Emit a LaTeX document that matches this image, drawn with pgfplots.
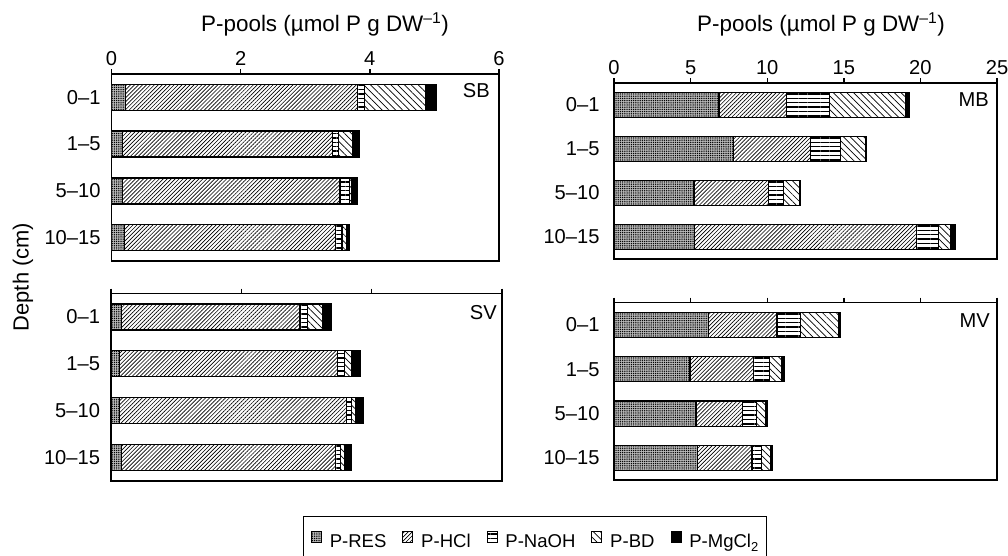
\documentclass[border=0pt]{standalone}
\usepackage{pgfplots}
\pgfplotsset{compat=1.18}
\usepackage{pgfplotstable}
\usepackage{fontspec}
\setmainfont{Liberation Sans}
\usetikzlibrary{patterns.meta}

% segment values (stacked): RES, HCl, NaOH, BD, MgCl2
\pgfplotstableread{
y res hcl naoh bd mg
0 0.22 3.59 0.11 0.95 0.16
1 0.17 3.25 0.10 0.22 0.09
2 0.17 3.37 0.14 0.04 0.09
3 0.20 3.27 0.10 0.07 0.05
}\SB
\pgfplotstableread{
y res hcl naoh bd mg
0 0.16 2.74 0.12 0.23 0.13
1 0.13 3.35 0.10 0.12 0.13
2 0.13 3.48 0.08 0.07 0.12
3 0.16 3.29 0.07 0.07 0.10
}\SV
\pgfplotstableread{
y res hcl naoh bd mg
0 6.86 4.38 2.83 4.95 0.28
1 7.80 5.01 1.96 1.68 0.03
2 5.23 4.86 0.98 1.02 0.07
3 5.25 14.49 1.46 0.80 0.29
}\MB
\pgfplotstableread{
y res hcl naoh bd mg
0 6.17 4.46 1.53 2.50 0.11
1 4.97 4.14 1.02 0.79 0.17
2 5.36 3.05 0.87 0.59 0.13
3 5.47 3.53 0.65 0.55 0.15
}\MV

\tikzset{
  pres/.style={draw=black, line width=1.3bp, preaction={fill=gray!55},
    pattern={Dots[distance=2.2bp, radius=0.75bp]}},
  phcl/.style={draw=black, line width=1.3bp, pattern={Lines[angle=45, distance=2.8bp, line width=0.65bp]}},
  pnaoh/.style={draw=black, line width=1.3bp, pattern={Lines[angle=0, distance=4.4bp, line width=1.4bp]}},
  pbd/.style={draw=black, line width=1.3bp, pattern={Lines[angle=-45, distance=4.8bp, line width=0.7bp]}},
  pmg/.style={draw=black, line width=1.3bp, fill=black},
}
\newcommand{\tfont}{\fontsize{20.2}{21}\selectfont}
\newcommand{\lfont}{\fontsize{18.6}{20}\selectfont}
\pgfplotsset{
  panel/.style={
    scale only axis, xbar stacked, y dir=reverse,
    ymin=-0.5, ymax=3.5, xmin=0,
    ytick={0,1,2,3}, yticklabels={0–1,1–5,5–10,10–15},
    ytick style={draw=none},
    xtick pos=upper, xticklabel pos=upper, ytick pos=left,
    tick align=outside, major tick length=5bp,
    axis line style={line width=1.4bp},
    every tick/.style={line width=1.4bp, black},
    tick label style={font=\tfont},
    /pgf/number format/assume math mode=true,
  },
}

\begin{document}
\begin{tikzpicture}
\path[use as bounding box] (0,0) rectangle (1008bp,-556bp);

% top-left SB
\begin{axis}[panel, at={(111.5bp,-74bp)}, anchor=north west,
  width=387.5bp, height=187bp, xmax=6, xtick={0,2,4,6}, bar width=26bp,
  yticklabel style={xshift=-2.5bp}]
\addplot[pres] table[x=res,y=y]{\SB};
\addplot[phcl] table[x=hcl,y=y]{\SB};
\addplot[pnaoh] table[x=naoh,y=y]{\SB};
\addplot[pbd] table[x=bd,y=y]{\SB};
\addplot[pmg] table[x=mg,y=y]{\SB};
\pgfplotsinvokeforeach{0.5,1.5,2.5}{\draw[line width=1.4bp] (axis cs:0,#1) -- ++(-5bp,0pt);}
\end{axis}

% bottom-left SV
\begin{axis}[panel, at={(111bp,-293.5bp)}, anchor=north west,
  width=391bp, height=187.5bp, xmax=6, xtick={0,2,4,6}, xticklabels={}, bar width=26bp,
  yticklabel style={xshift=-2.5bp},
  legend columns=5,
  legend style={at={(0.49,-0.185)}, anchor=north west, draw=black, line width=0.8bp,
    font=\lfont, inner xsep=8bp, inner ysep=15bp,
    nodes={inner sep=0pt, font=\lfont},
    /tikz/every odd column/.append style={column sep=8bp},
    /tikz/every even column/.append style={column sep=16bp}},
  legend image code/.code={\draw[#1, line width=0.8bp] (0bp,-0.5bp) rectangle (10bp,10.5bp);}]
\addplot[pres] table[x=res,y=y]{\SV};
\addplot[phcl] table[x=hcl,y=y]{\SV};
\addplot[pnaoh] table[x=naoh,y=y]{\SV};
\addplot[pbd] table[x=bd,y=y]{\SV};
\addplot[pmg] table[x=mg,y=y]{\SV};
\legend{P-RES,P-HCl,P-NaOH,P-BD,P-MgCl\textsubscript{2}}
\pgfplotsinvokeforeach{0.5,1.5,2.5}{\draw[line width=1.4bp] (axis cs:0,#1) -- ++(-5bp,0pt);}
\end{axis}

% top-right MB
\begin{axis}[panel, at={(614bp,-83bp)}, anchor=north west,
  width=383bp, height=176bp, xmax=25, xtick={0,5,10,15,20,25}, bar width=25.3bp,
  yticklabel style={xshift=-6bp}]
\addplot[pres] table[x=res,y=y]{\MB};
\addplot[phcl] table[x=hcl,y=y]{\MB};
\addplot[pnaoh] table[x=naoh,y=y]{\MB};
\addplot[pbd] table[x=bd,y=y]{\MB};
\addplot[pmg] table[x=mg,y=y]{\MB};
\pgfplotsinvokeforeach{0.5,1.5,2.5}{\draw[line width=1.4bp] (axis cs:0,#1) -- ++(-5bp,0pt);}
\end{axis}

% bottom-right MV
\begin{axis}[panel, at={(614bp,-302.7bp)}, anchor=north west,
  width=383bp, height=177.3bp, xmax=25, xtick={0,5,10,15,20,25}, xticklabels={}, bar width=25.3bp,
  yticklabel style={xshift=-6bp}]
\addplot[pres] table[x=res,y=y]{\MV};
\addplot[phcl] table[x=hcl,y=y]{\MV};
\addplot[pnaoh] table[x=naoh,y=y]{\MV};
\addplot[pbd] table[x=bd,y=y]{\MV};
\addplot[pmg] table[x=mg,y=y]{\MV};
\pgfplotsinvokeforeach{0.5,1.5,2.5}{\draw[line width=1.4bp] (axis cs:0,#1) -- ++(-5bp,0pt);}
\end{axis}

% panel tags
\node[anchor=north east, inner sep=0pt, font=\tfont] at (490bp,-83bp) {SB};
\node[anchor=north east, inner sep=0pt, font=\tfont] at (989bp,-92bp) {MB};
\node[anchor=north east, inner sep=0pt, font=\tfont] at (497bp,-305bp) {SV};
\node[anchor=north east, inner sep=0pt, font=\tfont] at (990bp,-313bp) {MV};

% titles
\node[anchor=base, inner sep=0pt, font=\fontsize{22.5}{23}\selectfont] at (325bp,-31bp) {P-pools (µmol P g DW\textsuperscript{–1})};
\node[anchor=base, inner sep=0pt, font=\fontsize{22.5}{23}\selectfont] at (821bp,-31bp) {P-pools (µmol P g DW\textsuperscript{–1})};
\node[rotate=90, inner sep=0pt, font=\fontsize{22}{22}\selectfont] at (23bp,-277bp) {Depth (cm)};
\end{tikzpicture}
\end{document}
